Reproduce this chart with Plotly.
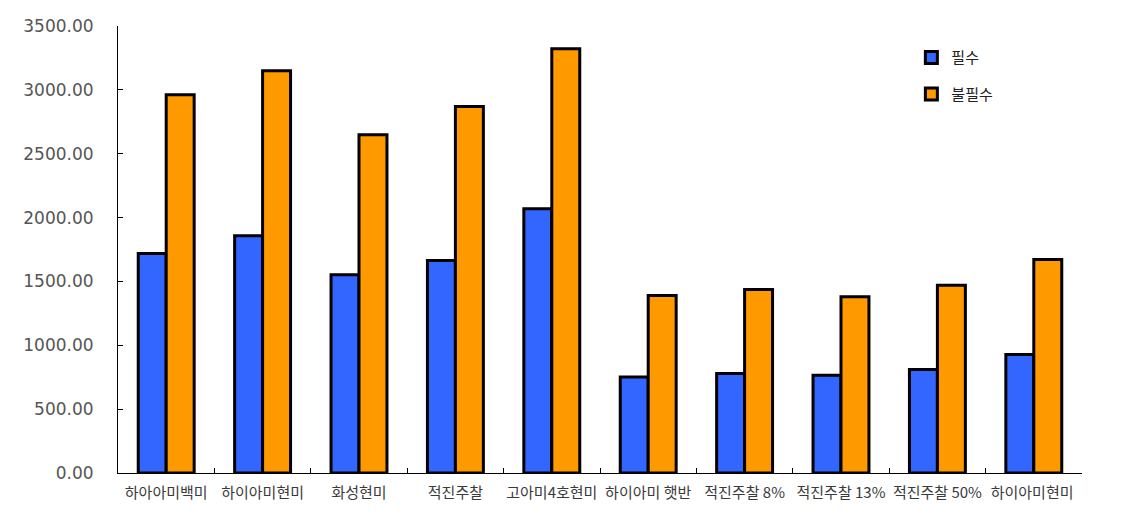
import plotly.graph_objects as go

categories = ["하아아미백미", "하이아미현미", "화성현미", "적진주찰", "고아미4호현미",
              "하이아미 햇반", "적진주찰 8%", "적진주찰 13%", "적진주찰 50%", "하이아미현미 "]
series_names = ["필수", "불필수"]
essential = [1718, 1858, 1553, 1663, 2070, 752, 779, 765, 810, 927]
nonessential = [2962, 3149, 2649, 2870, 3322, 1389, 1436, 1381, 1470, 1671]
y_ticks = [0, 500, 1000, 1500, 2000, 2500, 3000, 3500]

fig = go.Figure()
fig.add_trace(go.Bar(x=categories, y=essential, name=series_names[0],
                     marker=dict(color="#3366FF", line=dict(color="black", width=3)),
                     legendgroup="a"))
fig.add_trace(go.Bar(x=categories, y=nonessential, name=series_names[1],
                     marker=dict(color="#FF9900", line=dict(color="black", width=3)),
                     legendgroup="b"))

fig.update_layout(
    width=1130, height=515,
    margin=dict(l=118, r=48, t=26, b=42),
    paper_bgcolor="white", plot_bgcolor="white",
    barmode="group", bargap=0.42, bargroupgap=0,
    font=dict(family="Noto Sans CJK KR", color="#333333"),
    legend=dict(x=0.823, y=0.966, xanchor="left", yanchor="top",
                font=dict(size=15, family="Noto Sans CJK KR", color="#222222"),
                tracegroupgap=14, bgcolor="rgba(0,0,0,0)"),
    showlegend=True,
)
fig.update_xaxes(
    showline=True, linecolor="black", linewidth=1,
    ticks="inside", ticklen=5, tickcolor="black", tickson="boundaries",
    tickfont=dict(size=15, family="Noto Sans CJK KR", color="#3a3a3a"),
    tickangle=0, automargin=False, ticklabelstandoff=6,
    showgrid=False,
)
fig.update_yaxes(
    range=[0, 3500], tickvals=y_ticks, tickformat=".2f",
    showline=True, linecolor="black", linewidth=1,
    ticks="inside", ticklen=5, tickcolor="black",
    tickfont=dict(size=17, family="DejaVu Sans", color="#555555"),
    showgrid=False, zeroline=False, ticklabelstandoff=20, automargin=False,
)

fig.write_html("out.html")
